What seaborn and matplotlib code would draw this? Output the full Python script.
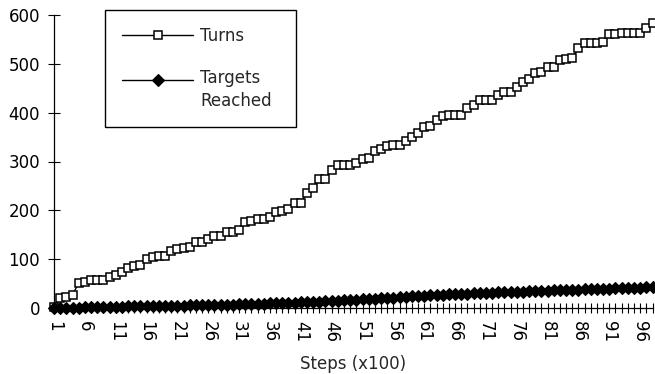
import numpy as np
import pandas as pd
import matplotlib
matplotlib.use("Agg")
import matplotlib.pyplot as plt
import seaborn as sns
from matplotlib.lines import Line2D
from matplotlib.legend_handler import HandlerLine2D

# Simulation steps (in hundreds)
steps = list(range(1, 99))

# Cumulative number of turns taken
turns = [
    2, 20, 22, 27, 51, 54, 57, 57, 57, 63,
    68, 74, 81, 85, 88, 100, 104, 107, 107, 117,
    121, 123, 125, 135, 136, 142, 147, 148, 155, 155,
    160, 176, 178, 182, 182, 187, 197, 199, 202, 214,
    216, 235, 245, 264, 264, 283, 293, 293, 293, 296,
    305, 307, 322, 325, 332, 334, 334, 343, 350, 358,
    370, 373, 385, 393, 395, 395, 395, 409, 416, 425,
    426, 426, 436, 443, 443, 453, 462, 468, 482, 484,
    493, 494, 508, 510, 512, 532, 542, 542, 542, 544,
    561, 561, 563, 563, 563, 564, 573, 583,
]

# Cumulative number of targets reached
targets_reached = [
    0, 0, 1, 1, 1, 2, 2, 2, 3, 3,
    3, 3, 4, 4, 4, 4, 5, 5, 5, 5,
    5, 5, 6, 6, 6, 6, 6, 7, 7, 7,
    8, 8, 8, 9, 9, 10, 10, 10, 11, 11,
    12, 12, 13, 13, 14, 15, 15, 16, 17, 17,
    18, 19, 19, 20, 21, 21, 22, 23, 24, 24,
    25, 26, 27, 27, 28, 28, 29, 29, 30, 30,
    31, 31, 32, 32, 33, 33, 33, 34, 34, 35,
    35, 36, 36, 37, 37, 37, 38, 38, 39, 39,
    39, 40, 40, 41, 41, 41, 42, 42,
]

x_tick_labels = ["1", "6", "11", "16", "21", "26", "31", "36", "41", "46",
                 "51", "56", "61", "66", "71", "76", "81", "86", "91", "96"]
y_ticks = [0, 100, 200, 300, 400, 500, 600]

series_labels = ["Turns", "Targets\nReached"]


class RaisedLineHandler(HandlerLine2D):
    """Legend handler that lifts the sample line to sit beside the first text line."""

    def __init__(self, lift=0.0, **kw):
        super().__init__(**kw)
        self.lift = lift

    def create_artists(self, legend, orig_handle, xdescent, ydescent,
                       width, height, fontsize, trans):
        artists = super().create_artists(legend, orig_handle, xdescent, ydescent,
                                         width, height, fontsize, trans)
        for a in artists:
            a.set_ydata(np.asarray(a.get_ydata()) + self.lift * fontsize)
        return artists


sns.set_style("ticks")
plt.rcParams["font.family"] = ["DejaVu Sans"]

df = pd.DataFrame({"Steps": steps, "Turns": turns, "Targets": targets_reached})

W, H = 655, 374
fig = plt.figure(figsize=(W / 100, H / 100), dpi=100)
ax = fig.add_axes([54 / W, 66 / H, 598.5 / W, 293 / H])

turn_style = dict(color="black", linewidth=1.0, marker="s", markersize=5.6,
                  markerfacecolor="white", markeredgecolor="black",
                  markeredgewidth=1.1)
target_style = dict(color="black", linewidth=1.0, marker="D", markersize=6.0,
                    markerfacecolor="black", markeredgecolor="black",
                    markeredgewidth=0.8)

sns.lineplot(data=df, x="Steps", y="Turns", ax=ax, clip_on=False,
             zorder=3, legend=False, **turn_style)
sns.lineplot(data=df, x="Steps", y="Targets", ax=ax, clip_on=False,
             zorder=4, legend=False, **target_style)

ax.set_xlim(1, 98)
ax.set_ylim(0, 600)
ax.set_yticks(y_ticks)
ax.set_yticklabels([str(v) for v in y_ticks], fontsize=12)

label_pos = [int(t) for t in x_tick_labels]
ax.set_xticks(label_pos)
ax.set_xticklabels(x_tick_labels, rotation=-90, fontsize=12)
ax.set_xticks(steps, minor=True)

ax.tick_params(axis="x", which="both", direction="inout", length=7, width=0.8,
               pad=6, colors="black")
ax.tick_params(axis="y", which="major", direction="inout", length=8, width=0.8,
               pad=6, colors="black")

for side in ("top", "right"):
    ax.spines[side].set_visible(False)
for side in ("left", "bottom"):
    ax.spines[side].set_color("black")
    ax.spines[side].set_linewidth(0.9)

ax.set_xlabel("Steps (x100)", fontsize=12, labelpad=9)
ax.set_ylabel("")

h_turns = Line2D([], [], **turn_style)
h_targets = Line2D([], [], **target_style)
leg = ax.legend(
    [h_turns, h_targets], series_labels,
    handler_map={h_targets: RaisedLineHandler(lift=0.66)},
    loc="upper left",
    bbox_to_anchor=(105 / W, 1 - 128 / H, 191 / W, 118 / H),
    bbox_transform=fig.transFigure,
    mode="expand",
    fontsize=12, handlelength=4.3, handletextpad=0.4,
    borderpad=1.0, labelspacing=1.45, borderaxespad=0,
    frameon=True, fancybox=False, shadow=False, framealpha=1,
    edgecolor="black",
)
leg.get_frame().set_linewidth(1.0)
for t in leg.get_texts():
    t.set_linespacing(1.4)

fig.savefig("out.png", dpi=100)
